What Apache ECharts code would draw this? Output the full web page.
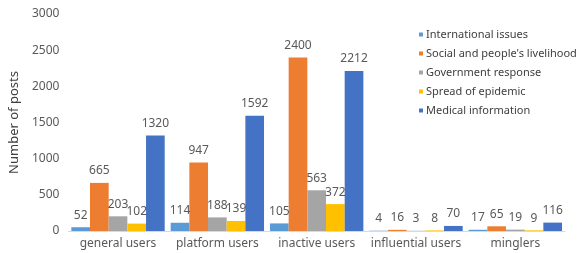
<!DOCTYPE html>
<html><head><meta charset="utf-8">
<script src="https://cdn.jsdelivr.net/npm/echarts@6/dist/echarts.min.js"></script>
<style>html,body{margin:0;padding:0;background:#fff}#c{width:578px;height:253px}</style>
</head><body><div id="c"></div>
<script>
const categories = ['general users', 'platform users', 'inactive users', 'influential users', 'minglers'];
const seriesNames = ['International issues', "Social and people's livelihood", 'Government response', 'Spread of epidemic', 'Medical information'];
const international = [52, 114, 105, 4, 17];
const social = [665, 947, 2400, 16, 65];
const government = [203, 188, 563, 3, 19];
const spread = [102, 139, 372, 8, 9];
const medical = [1320, 1592, 2212, 70, 116];
const yTicks = [0, 500, 1000, 1500, 2000, 2500, 3000];
const colors = ['#5B9BD5', '#ED7D31', '#A5A5A5', '#FFC000', '#4472C4'];
const allData = [international, social, government, spread, medical];

const chart = echarts.init(document.getElementById('c'));
const font = 'Noto Sans, sans-serif';
chart.setOption({
  animation: false,
  color: colors,
  grid: {left: 53, right: 13, top: 14, bottom: 22, containLabel: false},
  legend: {
    orient: 'vertical', left: 414, top: 24, itemWidth: 4, itemHeight: 4, itemGap: 8,
    icon: 'rect',
    textStyle: {color: '#404040', fontSize: 11, fontFamily: font, padding: [0, 0, 0, -2]},
    data: seriesNames
  },
  xAxis: {
    type: 'category', data: categories,
    axisLine: {lineStyle: {color: '#D9D9D9'}},
    axisTick: {show: false},
    axisLabel: {color: '#595959', fontSize: 12, fontFamily: font, margin: 7, interval: 0}
  },
  yAxis: {
    type: 'value', min: yTicks[0], max: yTicks[yTicks.length - 1], interval: 500,
    name: 'Number of posts', nameLocation: 'middle', nameGap: 38,
    nameTextStyle: {color: '#404040', fontSize: 13, fontFamily: font},
    splitLine: {show: false},
    axisLine: {show: false}, axisTick: {show: false},
    axisLabel: {color: '#595959', fontSize: 12, fontFamily: font, margin: 9, formatter: v => String(v)}
  },
  series: seriesNames.map((n, i) => ({
    name: n, type: 'bar', data: allData[i],
    barGap: '0%', barCategoryGap: '6%',
    label: {show: true, position: 'top', color: '#595959', fontSize: 12, fontFamily: font, distance: 6}
  }))
});
</script></body></html>
